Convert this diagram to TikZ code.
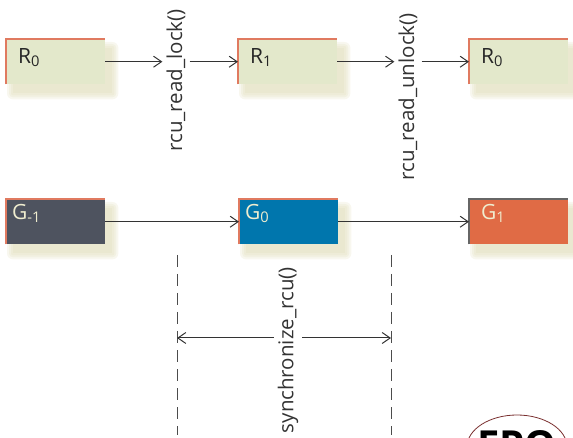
\documentclass[tikz,border=0pt]{standalone}
\usepackage{fontspec}
\setmainfont{Open Sans}
\usetikzlibrary{arrows.meta,backgrounds}

\definecolor{readfill}{HTML}{E3E8CB}
\definecolor{gpast}{HTML}{4E535F}
\definecolor{gnow}{HTML}{0076AD}
\definecolor{gnext}{HTML}{E06B45}
\definecolor{rimred}{HTML}{E07A60}
\definecolor{glow}{HTML}{DCD8B0}
\definecolor{gtext}{HTML}{EFEDCF}
\definecolor{epored}{HTML}{7A3030}

\begin{document}
\begin{tikzpicture}[x=1pt,y=-1pt,
    arrow/.style={line width=1pt,draw=black!80,-{Straight Barb[length=8pt,width=11pt]}},
    cell/.style={anchor=north west,minimum height=45pt,align=left,inner ysep=4pt,
                 font=\fontsize{21}{21}\selectfont},
    rcell/.style={cell,fill=readfill,text=black!85,inner xsep=12pt,text width=75pt,
                  text height=20pt,text depth=17pt},
    gcell/.style={cell,text=gtext,inner xsep=6pt,text width=87pt,
                  text height=16pt,text depth=21pt},
    rim/.style={draw=rimred,line width=1.2pt},
    call/.style={rotate=90,anchor=east,inner sep=4pt,text=black!80,
                 font=\fontsize{20.5}{20.5}\selectfont},
    guide/.style={line width=0.9pt,draw=black!70,dash pattern=on 12pt off 7pt}]
  \path[use as bounding box] (0,0) rectangle (573,438);
  \clip (0,0) rectangle (573,438);

  \node[rcell] (r0) at (6,39) {R\textsubscript{0}};
  \node[rcell] (r1) at (238,39) {R\textsubscript{1}};
  \node[rcell] (r2) at (469,39) {R\textsubscript{0}};

  \node[gcell,fill=gpast] (gm1) at (6,199) {G\textsubscript{-1}};
  \node[gcell,fill=gnow] (g0) at (239,199) {G\textsubscript{0}};
  \node[gcell,fill=gnext,inner xsep=12pt,text width=75pt] (g1) at (469,199) {G\textsubscript{1}};

  \begin{scope}[on background layer]
    \foreach \b in {r0,r1,r2,gm1,g0,g1}
      \foreach \r in {0,2,4,6}
        \fill[glow,fill opacity=0.2,rounded corners=\r pt]
          ([shift={(7-\r,9-\r)}]\b.north west) rectangle ([shift={(7+\r,9+\r)}]\b.south east);
  \end{scope}

  \foreach \b in {r0,r1,r2,gm1,g0}
    \draw[rim] (\b.south west) -- (\b.north west) -- (\b.north east);
  \draw[rim,draw=black!60] (g1.south west) -- (g1.north west) -- (g1.north east);

  \node[call] (lock) at (176,5) {rcu\_read\_lock()};
  \node[call] (unlock) at (408,9) {rcu\_read\_unlock()};
  \node[call] (sync) at (288,263) {synchronize\_rcu()};

  \draw[arrow] (r0.east) -- (r0.east -| lock.north);
  \draw[arrow] (r0.east -| lock.south) -- (r1.west);
  \draw[arrow] (r1.east) -- (r1.east -| unlock.north);
  \draw[arrow] (r1.east -| unlock.south) -- (r2.west);

  \draw[arrow] (gm1.east) -- (g0.west);
  \draw[arrow] (g0.east) -- (g1.west);

  \coordinate (t1) at (177,255);
  \coordinate (b1) at (177,435);
  \coordinate (t2) at (391,255);
  \coordinate (b2) at (391,435);
  \draw[guide] (t1) -- (b1);
  \draw[guide] (t2) -- (b2);
  \coordinate (m1) at (177,338);
  \coordinate (m2) at (391,338);
  \draw[arrow] (m1 -| sync.north) -- (m1);
  \draw[arrow] (m2 -| sync.south) -- (m2);

  \draw[epored,line width=0.8pt] (517,447) ellipse [x radius=50,y radius=32];
  \node[anchor=north,inner sep=0pt,font=\bfseries\fontsize{40}{40}\selectfont] (epo) at (517,430) {EPO};
\end{tikzpicture}
\end{document}
